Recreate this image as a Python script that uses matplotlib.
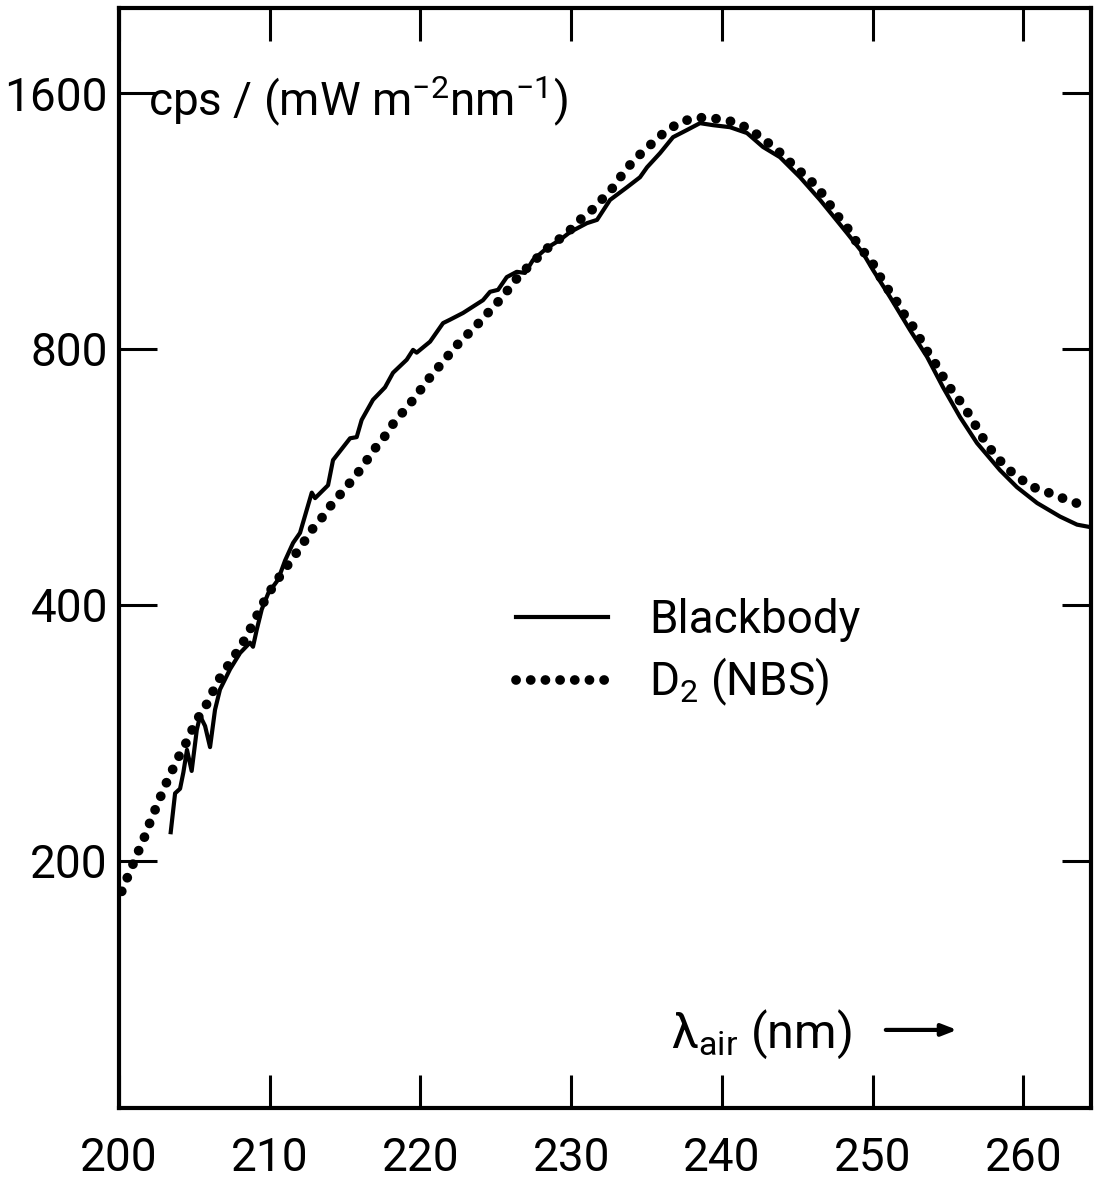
import numpy as np
import matplotlib
matplotlib.use('Agg')
import matplotlib.pyplot as plt
from matplotlib.ticker import NullLocator, FixedLocator, FixedFormatter

plt.rcParams['font.family'] = ['Roboto', 'DejaVu Sans']
plt.rcParams['mathtext.fontset'] = 'custom'
plt.rcParams['mathtext.rm'] = 'Roboto'
plt.rcParams['mathtext.it'] = 'Roboto'

# Blackbody (solid)
bb_nm = [203.43, 203.72, 204.05, 204.27, 204.51, 204.82, 205.16, 205.38, 205.71, 206.04,
         206.37, 206.70, 207.37, 208.03, 208.69, 208.89, 209.14, 209.47, 209.91, 210.55,
         211.02, 211.55, 212.01, 212.79, 213.01, 213.87, 214.20, 215.33, 215.77, 216.10,
         216.85, 217.65, 218.18, 219.09, 219.51, 219.75, 220.64, 221.50, 221.96, 222.83,
         224.15, 224.62, 225.15, 225.73, 226.39, 226.94, 227.47, 228.40, 229.26, 229.93,
         231.05, 231.72, 232.58, 233.71, 234.57, 235.04, 235.90, 236.76, 237.69, 238.55,
         239.42, 240.54, 241.67, 242.73, 243.86, 245.19, 246.52, 247.51, 248.31, 249.37,
         250.03, 251.16, 252.49, 253.62, 254.68, 255.81, 256.93, 258.46, 259.59, 260.92,
         262.44, 263.57, 264.63]
bb_val = [216, 240, 243, 254, 270, 255, 285, 296, 288, 272,
          301, 318, 336, 351, 361, 357, 374, 395, 413, 428,
          451, 473, 486, 542, 534, 553, 592, 628, 630, 660,
          697, 721, 750, 777, 798, 792, 816, 858, 866, 882,
          913, 934, 939, 972, 986, 983, 1018, 1052, 1075, 1098,
          1125, 1135, 1198, 1240, 1274, 1309, 1360, 1420, 1448, 1475,
          1467, 1459, 1436, 1383, 1345, 1274, 1198, 1140, 1095, 1037,
          991, 921, 842, 783, 721, 665, 620, 576, 550, 527,
          508, 497, 493]

# D2 lamp (NBS) - dotted
d2_nm = [200.18, 200.55, 201.33, 201.73, 202.10, 202.46, 202.85, 203.23, 203.65, 204.05,
         204.49, 204.93, 205.37, 205.89, 206.37, 206.81, 207.37, 207.92, 208.47, 208.91,
         209.36, 209.80, 210.35, 210.90, 211.68, 212.23, 212.79, 213.45, 214.00, 214.66,
         215.33, 215.95, 216.48, 217.05, 217.65, 218.16, 218.80, 219.46, 220.13, 220.81,
         221.52, 222.14, 222.85, 223.51, 224.18, 224.84, 225.55, 226.21, 226.83, 227.49,
         228.27, 229.15, 229.93, 230.70, 231.43, 232.07, 232.80, 233.36, 234.02, 234.75,
         235.50, 236.23, 237.11, 238.00, 238.89, 239.88, 240.94, 241.87, 242.65, 243.42,
         244.19, 244.86, 245.63, 246.40, 246.96, 247.58, 248.24, 248.84, 249.46, 250.05,
         250.50, 251.05, 251.61, 252.16, 252.77, 253.26, 253.77, 254.32, 254.81, 255.36,
         255.98, 256.49, 257.02, 257.52, 258.15, 258.90, 259.65, 260.42, 261.33, 262.26,
         263.20, 264.15]
d2_val = [184, 191, 206, 214, 223, 231, 240, 249, 258, 267,
          276, 287, 297, 307, 320, 331, 342, 354, 367, 381,
          395, 409, 424, 438, 458, 473, 490, 506, 522, 539,
          557, 575, 593, 613, 632, 652, 673, 695, 721, 748,
          773, 798, 824, 844, 871, 896, 926, 960, 987, 1013,
          1046, 1075, 1104, 1140, 1168, 1201, 1240, 1281, 1325, 1365,
          1403, 1441, 1474, 1494, 1498, 1491, 1478, 1450, 1417, 1383,
          1346, 1308, 1276, 1236, 1198, 1153, 1117, 1075, 1038, 1006,
          973, 939, 909, 875, 846, 816, 787, 762, 735, 711,
          688, 666, 642, 620, 600, 579, 566, 552, 545, 537,
          529, 523]

yticks = [200, 400, 800, 1600]
xticks = [200, 210, 220, 230, 240, 250, 260]

fig = plt.figure(figsize=(10.94, 11.81), dpi=100)
ax = fig.add_axes([0.1088, 0.0618, 0.8885, 0.9314])

ax.plot(bb_nm, bb_val, color='black', lw=3, label='Blackbody')
ax.plot(d2_nm, d2_val, color='black', lw=7, linestyle=(0, (0.01, 1.5)),
        dash_capstyle='round', label='D$_2$ (NBS)')

ax.set_yscale('log', base=2)
ax.set_xlim(200, 264.5)
ax.set_ylim(102.3, 2015)
ax.yaxis.set_major_locator(FixedLocator(yticks))
ax.yaxis.set_major_formatter(FixedFormatter([str(v) for v in yticks]))
ax.yaxis.set_minor_locator(NullLocator())
ax.set_xticks(xticks)
ax.set_xticklabels([str(v) for v in xticks])

for s in ax.spines.values():
    s.set_linewidth(3)

ax.tick_params(direction='in', top=True, right=True, length=24, width=2.2,
               labelsize=33)
ax.tick_params(axis='x', pad=20)
ax.tick_params(axis='y', pad=8)
for t in ax.yaxis.get_major_ticks():
    t.tick1line.set_markersize(27)
    t.tick2line.set_markersize(21)

ax.text(0.030, 0.902, r'cps / (mW m$^{-2}$nm$^{-1}$)',
        transform=ax.transAxes, fontsize=33, va='baseline')

ax.text(0.568, 0.055, r'λ$_{\mathrm{air}}$ (nm)', transform=ax.transAxes,
        fontsize=35, va='baseline')
ax.annotate('', xy=(0.865, 0.071), xytext=(0.786, 0.071), xycoords='axes fraction',
            arrowprops=dict(arrowstyle='-|>,head_length=0.9,head_width=0.35',
                            color='black', lw=3))

ax.legend(loc='upper left', bbox_to_anchor=(0.39, 0.48), frameon=False,
          fontsize=33, handlelength=2.0, handletextpad=0.9, labelspacing=0.3,
          borderaxespad=0)

fig.savefig('out.png', dpi=100)
